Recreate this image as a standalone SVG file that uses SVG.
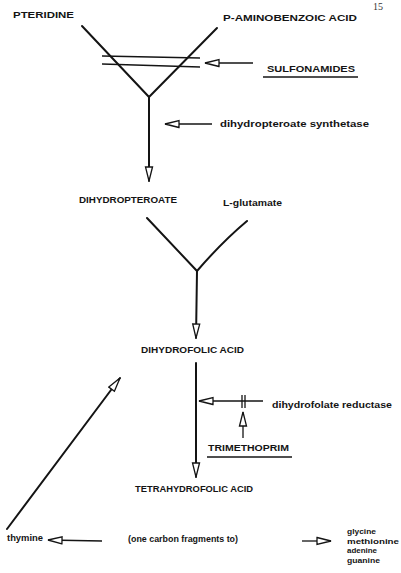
<svg xmlns="http://www.w3.org/2000/svg" width="401" height="573" viewBox="0 0 401 573">
<style>
.t{font-family:"Liberation Sans",Arial,sans-serif;font-weight:bold;fill:#141414;font-size:9.5px}
.l{font-family:"Liberation Sans",Arial,sans-serif;font-weight:bold;fill:#141414;font-size:9.5px}
.p{font-family:"Liberation Sans",Arial,sans-serif;font-weight:bold;fill:#141414;font-size:8px}
.thick{stroke:#141414;stroke-width:2;fill:none;stroke-linecap:round}
.thin{stroke:#141414;stroke-width:1.3;fill:none}
.arr{marker-end:url(#head)}
</style>
<defs>
<marker id="head" viewBox="0 0 16 10" refX="15" refY="5" markerWidth="16" markerHeight="10" markerUnits="userSpaceOnUse" orient="auto">
<path d="M1,1.5 L15,5 L1,8.5 Z" fill="#fff" stroke="#141414" stroke-width="1.3"/>
</marker>
</defs>
<rect width="401" height="573" fill="#fff"/>
<text x="373" y="10" font-family="Liberation Serif,serif" font-size="10" fill="#333">15</text>
<g id="pteridine"><text class="t" x="13" y="17.5" textLength="61" lengthAdjust="spacingAndGlyphs">PTERIDINE</text></g>
<g id="paba"><text class="t" x="223" y="20.5" textLength="134" lengthAdjust="spacingAndGlyphs">P-AMINOBENZOIC ACID</text></g>
<g id="sulfonamides"><text class="t" x="267" y="71.5" textLength="88" lengthAdjust="spacingAndGlyphs">SULFONAMIDES</text><line class="thin" x1="263" y1="77" x2="358" y2="77" stroke-width="1.6"/></g>
<g id="synthetase"><text class="l" x="220" y="127" textLength="149" lengthAdjust="spacingAndGlyphs">dihydropteroate synthetase</text></g>
<g id="dihydropteroate"><text class="t" x="79" y="203" textLength="98" lengthAdjust="spacingAndGlyphs">DIHYDROPTEROATE</text></g>
<g id="glutamate"><text class="l" x="223" y="206" textLength="59" lengthAdjust="spacingAndGlyphs">L-glutamate</text></g>
<g id="dihydrofolic"><text class="t" x="141" y="353" textLength="103" lengthAdjust="spacingAndGlyphs">DIHYDROFOLIC ACID</text></g>
<g id="reductase"><text class="l" x="272" y="408" textLength="120" lengthAdjust="spacingAndGlyphs">dihydrofolate reductase</text></g>
<g id="trimethoprim"><text class="t" x="208" y="451" textLength="81" lengthAdjust="spacingAndGlyphs">TRIMETHOPRIM</text><line class="thin" x1="207" y1="457" x2="292" y2="457" stroke-width="1.6"/></g>
<g id="tetrahydrofolic"><text class="t" x="135" y="492" textLength="118" lengthAdjust="spacingAndGlyphs">TETRAHYDROFOLIC ACID</text></g>
<g id="thymine"><text class="l" x="7" y="541" textLength="36" lengthAdjust="spacingAndGlyphs">thymine</text></g>
<g id="fragments"><text class="l" x="128" y="542" textLength="110" lengthAdjust="spacingAndGlyphs">(one carbon fragments to)</text></g>
<g id="products">
<text class="p" x="347" y="533.5" textLength="29" lengthAdjust="spacingAndGlyphs">glycine</text>
<text class="p" x="347" y="543.5" textLength="52" lengthAdjust="spacingAndGlyphs">methionine</text>
<text class="p" x="347" y="553" textLength="30" lengthAdjust="spacingAndGlyphs">adenine</text>
<text class="p" x="347" y="562.5" textLength="33" lengthAdjust="spacingAndGlyphs">guanine</text>
</g>
<g id="connectors">
<polyline class="thick" points="82,26 149,97 217,28"/>
<line class="thick arr" x1="149" y1="97" x2="149" y2="181"/>
<line class="thin" x1="102" y1="56" x2="200" y2="58"/>
<line class="thin" x1="102" y1="64" x2="200" y2="67"/>
<line class="thin arr" x1="253" y1="63" x2="205" y2="63"/>
<line class="thin arr" x1="212" y1="124" x2="165" y2="124"/>
<polyline class="thick" points="147,218 197,271"/>
<path class="thick" d="M197,271 Q222,242 247,221"/>
<line class="thick arr" x1="197" y1="271" x2="196" y2="338"/>
<line class="thick arr" x1="196" y1="363" x2="196" y2="477"/>
<line class="thin arr" x1="263" y1="401" x2="199" y2="401"/>
<line class="thin" x1="242" y1="395" x2="242" y2="408"/>
<line class="thin" x1="245" y1="395" x2="245" y2="408"/>
<line class="thin arr" x1="243" y1="438" x2="243" y2="412"/>
<line class="thick arr" x1="7" y1="529" x2="120" y2="378" stroke-width="1.6"/>
<line class="thin arr" x1="102" y1="541" x2="48" y2="540"/>
<line class="thin arr" x1="302" y1="541" x2="331" y2="541"/>
</g>
</svg>
